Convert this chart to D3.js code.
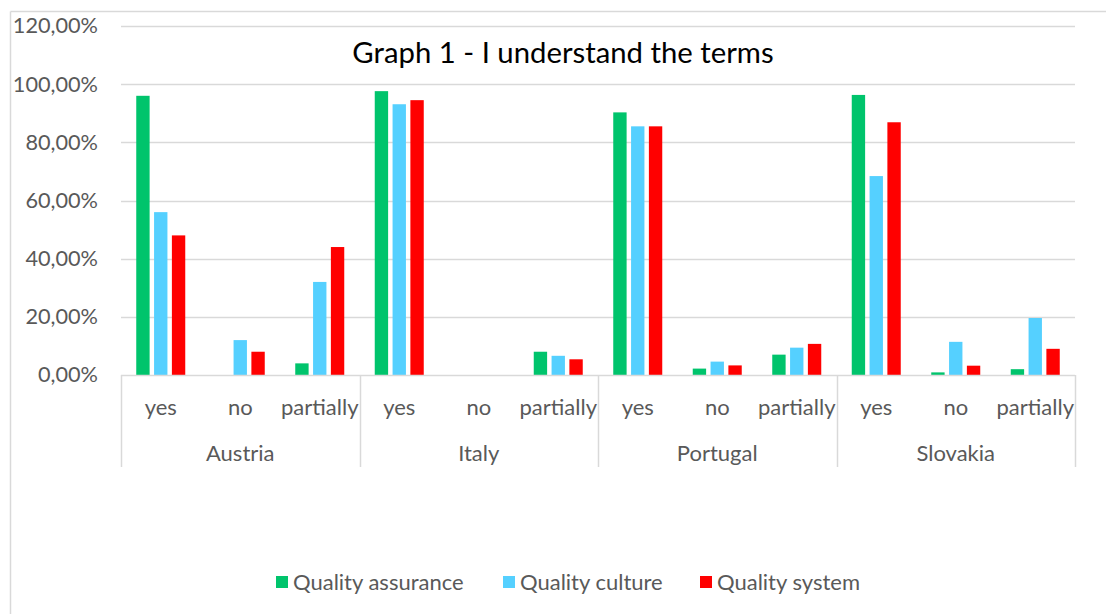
<!DOCTYPE html>
<html>
<head>
<meta charset="utf-8">
<script src="https://cdn.jsdelivr.net/npm/d3@7"></script>
<style>
html,body{margin:0;padding:0;background:#fff;}
svg{display:block;}
</style>
</head>
<body>
<svg id="chart" width="1106" height="614"></svg>
<script>
const countries = ["Austria", "Italy", "Portugal", "Slovakia"];
const answers = ["yes", "no", "partially"];
const seriesNames = ["Quality assurance", "Quality culture", "Quality system"];
const seriesColors = ["#00C46C", "#55D0FF", "#FF0000"];
// values per country, in order yes / no / partially
const qualityAssurance = [0.96, 0, 0.04, 0.976, 0, 0.08, 0.903, 0.022, 0.07, 0.963, 0.009, 0.02];
const qualityCulture   = [0.56, 0.12, 0.32, 0.931, 0, 0.066, 0.855, 0.046, 0.094, 0.684, 0.114, 0.196];
const qualitySystem    = [0.48, 0.08, 0.44, 0.945, 0, 0.054, 0.855, 0.033, 0.107, 0.869, 0.032, 0.09];
const yTicks = [0, 0.2, 0.4, 0.6, 0.8, 1.0, 1.2];
const title = "Graph 1 - I understand the terms";

(function () {
const allSeries = [qualityAssurance, qualityCulture, qualitySystem];
const cats = [];
countries.forEach(c => answers.forEach(a => cats.push(c + "|" + a)));

const svg = d3.select("#chart");
const fontFam = "Lato, 'Open Sans', sans-serif";
const textCol = "#595959";
const gridCol = "#D9D9D9";
const labelSize = 22;

const pLeft = 121, pRight = 1075, pTop = 26, pBottom = 375;

// chart border (top and left visible)
svg.append("line").attr("x1", 10.5).attr("x2", 1106).attr("y1", 11.5).attr("y2", 11.5).attr("stroke", gridCol).attr("stroke-width", 1.5);
svg.append("line").attr("x1", 10.5).attr("x2", 10.5).attr("y1", 11.5).attr("y2", 614).attr("stroke", gridCol).attr("stroke-width", 1.5);

const y = d3.scaleLinear().domain([0, 1.2]).range([pBottom, pTop]);
const x0 = d3.scaleBand().domain(cats).range([pLeft, pRight]).padding(0);
const groupW = 49;
const x1 = d3.scaleBand().domain(seriesNames)
  .range([(x0.bandwidth() - groupW) / 2, (x0.bandwidth() + groupW) / 2])
  .paddingInner(0.25).paddingOuter(0);

// gridlines
svg.append("g").selectAll("line").data(yTicks.filter(t => t > 0)).join("line")
  .attr("x1", pLeft).attr("x2", pRight)
  .attr("y1", d => Math.round(y(d)) + 0.5).attr("y2", d => Math.round(y(d)) + 0.5)
  .attr("stroke", gridCol).attr("stroke-width", 1.5);

// y axis labels
const yAxis = d3.axisLeft(y).tickValues(yTicks)
  .tickFormat(d => d3.format(".2f")(d * 100).replace(".", ",") + "%")
  .tickSize(0).tickPadding(0);
const yg = svg.append("g").attr("transform", `translate(98,0)`).call(yAxis);
yg.select(".domain").remove();
yg.selectAll("text").attr("font-family", fontFam).attr("font-size", 21.7).attr("fill", textCol);

// bars
const barG = svg.append("g");
cats.forEach((c, i) => {
  seriesNames.forEach((s, j) => {
    const v = allSeries[j][i];
    barG.append("rect")
      .attr("x", x0(c) + x1(s))
      .attr("y", y(v))
      .attr("width", x1.bandwidth())
      .attr("height", Math.max(0, pBottom - y(v)))
      .attr("fill", seriesColors[j]);
  });
});

// x axis baseline
svg.append("line").attr("x1", pLeft).attr("x2", pRight).attr("y1", pBottom + 0.5).attr("y2", pBottom + 0.5)
  .attr("stroke", gridCol).attr("stroke-width", 1.5);

// group separators
const sepX = countries.map(c => x0(c + "|yes")).concat([pRight]);
svg.append("g").selectAll("line").data(sepX).join("line")
  .attr("x1", d => Math.round(d) + 0.5).attr("x2", d => Math.round(d) + 0.5)
  .attr("y1", pBottom).attr("y2", 467)
  .attr("stroke", gridCol).attr("stroke-width", 1.5);

// answer labels
svg.append("g").selectAll("text").data(cats).join("text")
  .attr("x", d => x0(d) + x0.bandwidth() / 2)
  .attr("y", 415)
  .attr("text-anchor", "middle")
  .attr("font-family", fontFam).attr("font-size", labelSize).attr("fill", textCol)
  .text(d => d.split("|")[1]);

// country labels
svg.append("g").selectAll("text").data(countries).join("text")
  .attr("x", d => x0(d + "|no") + x0.bandwidth() / 2)
  .attr("y", 461)
  .attr("text-anchor", "middle")
  .attr("font-family", fontFam).attr("font-size", labelSize).attr("fill", textCol)
  .text(d => d);

// title
svg.append("text").attr("x", 563).attr("y", 63).attr("text-anchor", "middle")
  .attr("font-family", fontFam).attr("font-size", 29.3).attr("fill", "#000")
  .text(title);

// legend
const legX = [276, 503, 700];
const leg = svg.append("g");
seriesNames.forEach((s, j) => {
  leg.append("rect").attr("x", legX[j]).attr("y", 576).attr("width", 12).attr("height", 12).attr("fill", seriesColors[j]);
  leg.append("text").attr("x", legX[j] + 17).attr("y", 590)
    .attr("font-family", fontFam).attr("font-size", labelSize).attr("fill", textCol).text(s);
});
})();
</script>
</body>
</html>
